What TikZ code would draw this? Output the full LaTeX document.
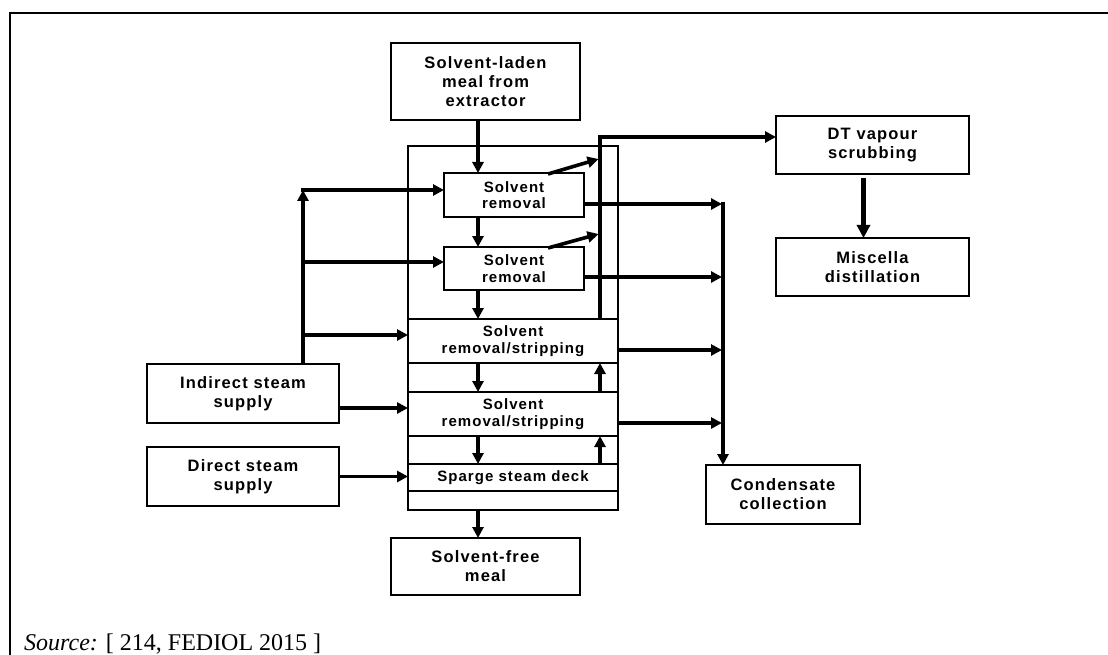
\documentclass[tikz,border=0pt]{standalone}
\usepackage{fontspec}
\setmainfont{Liberation Serif}
\newfontfamily\boxfont[LetterSpace=7]{Liberation Sans}
\usetikzlibrary{arrows.meta,calc}
\begin{document}
\begin{tikzpicture}[x=1pt,y=-1pt,
  box/.style={draw, line width=1.4pt, inner sep=0pt, outer sep=0pt, align=center,
    font=\boxfont\bfseries\fontsize{16.5}{19}\selectfont},
  inbox/.style={box, font=\boxfont\bfseries\fontsize{15}{16.5}\selectfont},
  arr/.style={line width=3.6pt, -{Triangle[length=11pt,width=11pt]}},
  bigarr/.style={line width=4.6pt, -{Triangle[length=13pt,width=13pt]}},
  frameline/.style={line width=2.6pt, line join=miter}]
\useasboundingbox (0,0) rectangle (1108,655);
\draw[frameline] (10,655) -- (10,13) -- (1108,13);

% nodes
\node[box, minimum width=189pt, minimum height=77pt] (top) at (485.5,81.5) {Solvent-laden\\meal from\\extractor};
\node[box, minimum width=210pt, minimum height=364pt] (col) at (513,328) {};
\node[inbox, minimum width=210pt, minimum height=44pt] (s1) at (513,341) {Solvent\\removal/stripping};
\node[inbox, minimum width=210pt, minimum height=44pt] (s2) at (513,414) {Solvent\\removal/stripping};
\node[inbox, minimum width=210pt, minimum height=27pt] (sp) at (513,477.5) {Sparge steam deck};
\node[inbox, minimum width=140pt, minimum height=44pt] (b1) at (514,195) {Solvent\\removal};
\node[inbox, minimum width=140pt, minimum height=43pt] (b2) at (514,268.5) {Solvent\\removal};
\node[box, minimum width=189pt, minimum height=57pt] (meal) at (485.5,566.5) {Solvent-free\\meal};
\node[box, minimum width=192pt, minimum height=59pt] (ind) at (243,393.5) {Indirect steam\\supply};
\node[box, minimum width=192pt, minimum height=59pt] (dir) at (243,476.5) {Direct steam\\supply};
\node[box, minimum width=193pt, minimum height=58pt] (dt) at (872.5,145) {DT vapour\\scrubbing};
\node[box, minimum width=193pt, minimum height=58pt] (mis) at (872.5,267) {Miscella\\distillation};
\node[box, minimum width=154pt, minimum height=59pt] (cond) at (783,494.5) {Condensate\\collection};

% helper coordinates
\coordinate (dx) at (478,0);
\coordinate (ux) at (600,0);
\coordinate (cx) at (723,0);
\coordinate (lx) at (303,0);
\coordinate (vy) at (0,137);
\coordinate (l1) at (0,190);
\coordinate (l2) at (0,262);
\coordinate (l3) at (0,335);
\coordinate (r1) at (0,204);
\coordinate (r2) at (0,277);
\coordinate (r3) at (0,350);
\coordinate (r4) at (0,423);
\coordinate (iy) at (0,408);

% main downward flow
\draw[arr] (top.south -| dx) -- (b1.north -| dx);
\draw[arr] (b1.south -| dx) -- (b2.north -| dx);
\draw[arr] (b2.south -| dx) -- (s1.north -| dx);
\draw[arr] (s1.south -| dx) -- (s2.north -| dx);
\draw[arr] (s2.south -| dx) -- (sp.north -| dx);
\draw[arr] (col.south -| dx) -- (meal.north -| dx);

% upward vapour
\draw[arr] (s2.north -| ux) -- (s1.south -| ux);
\draw[arr] (sp.north -| ux) -- (s2.south -| ux);
\draw[arr, line width=4pt] (s1.north -| ux) |- (dt.west |- vy);
\draw[arr] ($(b1.north)+(34,1)$) -- ($(b1.north -| ux)+(-1.5,-14)$);
\draw[arr] ($(b2.north)+(34,1)$) -- ($(b2.north -| ux)+(-1.5,-13)$);

% condensate
\draw[arr] (b1.east |- r1) -- ($(cx |- r1)+(-1,0)$);
\draw[arr] (b2.east |- r2) -- ($(cx |- r2)+(-1,0)$);
\draw[arr] (s1.east |- r3) -- ($(cx |- r3)+(-1,0)$);
\draw[arr] (s2.east |- r4) -- ($(cx |- r4)+(-1,0)$);
\draw[arr, line width=4pt] ($(cx |- r1)+(0,-1.8)$) -- (cond.north -| cx);

% indirect steam distribution
\draw[arr, line width=4pt] (ind.north -| lx) -- (lx |- l1);
\draw[arr] ($(lx |- l1)+(-2,0)$) -- (b1.west |- l1);
\draw[arr] (lx |- l2) -- (b2.west |- l2);
\draw[arr] (lx |- l3) -- (col.west |- l3);
\draw[arr] (ind.east |- iy) -- (col.west |- iy);
\draw[arr] (dir.east) -- (dir.east -| col.west);

% scrubbing to distillation
\draw[bigarr] ($(dt.south)+(-9,4)$) -- ($(mis.north)+(-9,0)$);

% source
\node[anchor=base west, inner sep=0pt, font=\fontsize{24}{28}\selectfont] (src) at (24,650) {\textit{Source:} [ 214, FEDIOL 2015 ]};
\end{tikzpicture}
\end{document}
